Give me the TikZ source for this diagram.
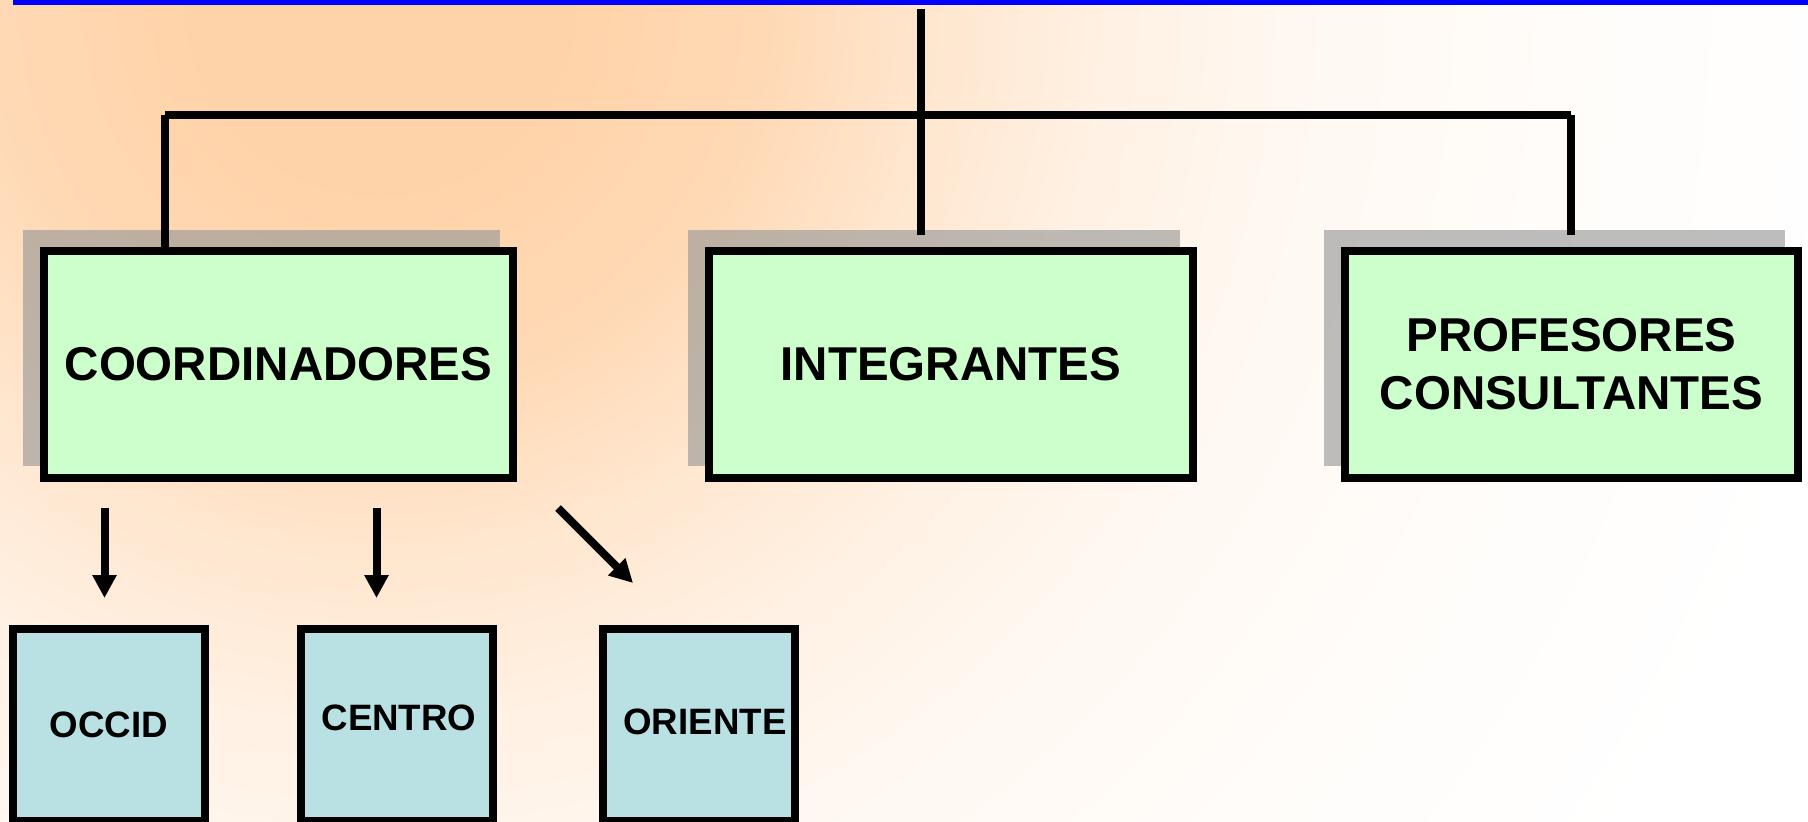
\documentclass[tikz,border=0pt]{standalone}
\usepackage{fontspec}
\setmainfont{Liberation Sans}
\usetikzlibrary{arrows.meta}
\definecolor{bgA}{RGB}{255,211,169}
\colorlet{bgA1}{bgA!86!white}
\colorlet{bgA2}{bgA!58!white}
\colorlet{bgA3}{bgA!33!white}
\colorlet{bgA4}{bgA!15!white}
\colorlet{bgA5}{bgA!6!white}
\definecolor{boxgreen}{RGB}{204,255,204}
\definecolor{boxblue}{RGB}{185,224,227}
\definecolor{shadc}{RGB}{150,150,150}
\definecolor{topblue}{RGB}{0,0,255}
\pgfdeclareradialshading{bgshade}{\pgfpoint{0bp}{0bp}}{color(0bp)=(bgA); color(3bp)=(bgA); color(6.5bp)=(bgA1); color(9bp)=(bgA2); color(12bp)=(bgA3); color(15.5bp)=(bgA4); color(20bp)=(bgA5); color(25bp)=(white); color(50bp)=(white)}
\pgfdeclarelayer{bg}
\pgfdeclarelayer{shad}
\pgfsetlayers{bg,shad,main}
\tikzset{
  topbox/.style={draw=black, line width=8pt, fill=boxgreen, rectangle, inner sep=0pt,
    minimum height=227pt, font=\fontsize{47.5}{58}\selectfont\bfseries, align=center},
  subbox/.style={draw=black, line width=8pt, fill=boxblue, rectangle, inner sep=0pt,
    minimum width=192pt, minimum height=192pt},
  subtext/.style={font=\fontsize{36.7}{44}\selectfont\bfseries, inner sep=0pt},
  link/.style={line width=8pt, line cap=butt, draw=black},
  arr/.style={line width=8pt, draw=black, -{Triangle[width=23pt,length=23pt]}},
  shadowbox/.style={fill=shadc, fill opacity=0.62}
}
\begin{document}
\begin{tikzpicture}[x=1pt,y=-1pt]
\useasboundingbox (0,0) rectangle (1808,822);
\begin{pgfonlayer}{bg}
  \fill[white] (0,0) rectangle (1808,822);
  \begin{scope}
    \clip (0,0) rectangle (1808,822);
    \shade[shading=bgshade] (380,0) circle (1500);
  \end{scope}
  \fill[topblue] (13,0) rectangle (1808,4.5);
\end{pgfonlayer}

\node[topbox, minimum width=469pt] (coord) at (278.5,364.5) {COORDINADORES};
\node[topbox, minimum width=484pt] (integ) at (951,364.5) {INTEGRANTES};
\node[topbox, minimum width=453pt] (prof) at (1571.5,364.5) {PROFESORES\\CONSULTANTES};

\begin{pgfonlayer}{shad}
  \foreach \n in {coord,integ,prof}
    \fill[shadowbox] ([shift={(-17,-17)}]\n.north west) rectangle ([shift={(-17,-16)}]\n.south east);
\end{pgfonlayer}

\node[subbox, label={[subtext]center:OCCID}] (occ) at (109,725) {};
\node[subbox, label={[subtext, xshift=2.5pt, yshift=7.5pt]center:CENTRO}] (cen) at (396.5,725) {};
\node[subbox, label={[subtext, xshift=6pt, yshift=3.5pt]center:ORIENTE}] (ori) at (699,725) {};

\coordinate (t0) at (921,9);
\coordinate (t1) at (921,235);
\coordinate (bl) at (165,115);
\coordinate (br) at (1571,115);
\coordinate (r1) at (1571,235);
\draw[link] (t0) -- (t1);
\draw[link] (bl) -- (br);
\draw[link] (bl) -- (bl |- coord.north);
\draw[link] (br) -- (r1);

\coordinate (a1s) at (104.5,508);
\coordinate (a1e) at (104.5,598);
\coordinate (a2s) at (376.5,508);
\coordinate (a2e) at (376.5,598);
\coordinate (a3s) at (558,508);
\coordinate (a3e) at (633,583);
\draw[arr] (a1s) -- (a1e);
\draw[arr] (a2s) -- (a2e);
\draw[arr] (a3s) -- (a3e);
\end{tikzpicture}
\end{document}
